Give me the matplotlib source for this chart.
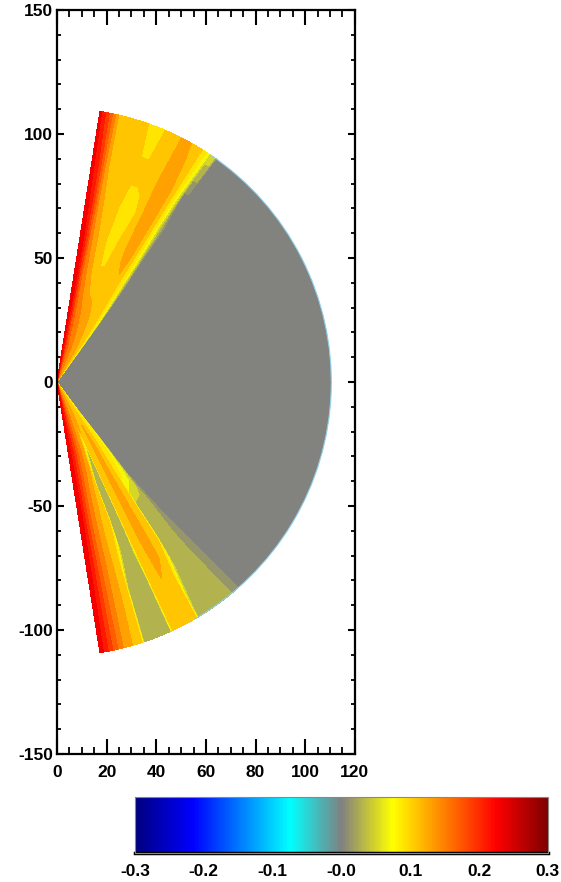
import numpy as np
import matplotlib
matplotlib.use("Agg")
import matplotlib.pyplot as plt
from matplotlib.colors import LinearSegmentedColormap, Normalize
from matplotlib.patches import Wedge, Arc
from matplotlib.cm import ScalarMappable
from matplotlib.ticker import MultipleLocator, FixedLocator, FuncFormatter

plt.rcParams["font.family"] = ["Liberation Sans", "DejaVu Sans"]
plt.rcParams["font.weight"] = "bold"

# radius of each table column, angle (deg from +x) of each table row
RADII = [0.5, 15, 30, 45, 60, 75, 90, 110.5]
ANGLES = [-81.0, -79.5, -78.0, -76.0, -74.0, -72.0, -71.5, -71.0, -69.5, -69.0,
          -66.0, -65.5, -65.0, -63.0, -62.0, -60.0, -59.5, -59.0, -57.5, -57.0,
          -56.0, -54.0, -53.0, -52.5, -52.0, -51.0, -50.0, -49.0, -48.5, 0.0,
          54.0, 54.5, 55.0, 56.0, 56.5, 57.5, 58.5, 60.0, 62.0, 64.0,
          66.0, 67.5, 69.5, 71.5, 73.5, 75.5, 77.0, 78.0, 79.0, 80.0,
          81.0]

# field value, one row per angle
VALUES = [
    [0.23, 0.235, 0.24, 0.24, 0.24, 0.24, 0.24, 0.235],
    [0.22, 0.225, 0.225, 0.225, 0.22, 0.215, 0.21, 0.205],
    [0.21, 0.21, 0.21, 0.20, 0.19, 0.185, 0.18, 0.175],
    [0.19, 0.19, 0.19, 0.17, 0.155, 0.15, 0.145, 0.14],
    [0.17, 0.17, 0.165, 0.145, 0.135, 0.13, 0.125, 0.12],
    [0.155, 0.155, 0.15, 0.13, 0.115, 0.11, 0.11, 0.11],
    [0.15, 0.15, 0.145, 0.125, 0.11, 0.11, 0.105, 0.03],
    [0.145, 0.145, 0.14, 0.12, 0.11, 0.105, 0.03, 0.03],
    [0.14, 0.14, 0.135, 0.105, 0.105, 0.03, 0.03, 0.03],
    [0.14, 0.14, 0.13, 0.03, 0.03, 0.03, 0.03, 0.03],
    [0.13, 0.13, 0.03, 0.03, 0.03, 0.03, 0.03, 0.03],
    [0.13, 0.13, 0.05, 0.03, 0.03, 0.05, 0.03, 0.03],
    [0.125, 0.125, 0.115, 0.11, 0.11, 0.11, 0.11, 0.105],
    [0.12, 0.12, 0.11, 0.11, 0.11, 0.11, 0.11, 0.11],
    [0.12, 0.12, 0.115, 0.12, 0.125, 0.13, 0.12, 0.11],
    [0.115, 0.115, 0.13, 0.13, 0.13, 0.13, 0.11, 0.11],
    [0.11, 0.11, 0.125, 0.115, 0.11, 0.11, 0.11, 0.105],
    [0.11, 0.11, 0.12, 0.11, 0.11, 0.11, 0.105, 0.03],
    [0.105, 0.105, 0.11, 0.105, 0.105, 0.105, 0.03, 0.03],
    [0.10, 0.10, 0.105, 0.09, 0.03, 0.03, 0.03, 0.03],
    [0.095, 0.095, 0.09, 0.085, 0.03, 0.03, 0.03, 0.03],
    [0.085, 0.085, 0.085, 0.07, 0.03, 0.03, 0.03, 0.03],
    [0.0, 0.0, 0.065, 0.05, 0.03, 0.03, 0.03, 0.03],
    [0.0, 0.0, 0.0, 0.0, 0.03, 0.03, 0.03, 0.03],
    [0.0, 0.0, 0.0, 0.0, 0.012, 0.012, 0.03, 0.03],
    [0.0, 0.0, 0.0, 0.0, 0.0, 0.012, 0.012, 0.03],
    [0.0, 0.0, 0.0, 0.0, 0.0, 0.0, 0.012, 0.012],
    [0.0, 0.0, 0.0, 0.0, 0.0, 0.0, 0.0, 0.012],
    [0.0, 0.0, 0.0, 0.0, 0.0, 0.0, 0.0, 0.0],
    [0.0, 0.0, 0.0, 0.0, 0.0, 0.0, 0.0, 0.0],
    [0.0, 0.0, 0.0, 0.0, 0.0, 0.0, 0.0, 0.0],
    [0.05, 0.05, 0.03, 0.0, 0.0, 0.0, 0.0, 0.0],
    [0.07, 0.07, 0.065, 0.03, 0.0, 0.0, 0.0, 0.05],
    [0.09, 0.09, 0.085, 0.065, 0.05, 0.03, 0.0, 0.05],
    [0.105, 0.105, 0.09, 0.085, 0.07, 0.05, 0.05, 0.07],
    [0.11, 0.11, 0.105, 0.09, 0.09, 0.085, 0.085, 0.09],
    [0.115, 0.115, 0.11, 0.11, 0.11, 0.11, 0.11, 0.11],
    [0.12, 0.12, 0.11, 0.115, 0.13, 0.13, 0.13, 0.115],
    [0.125, 0.125, 0.115, 0.11, 0.125, 0.13, 0.13, 0.13],
    [0.13, 0.13, 0.12, 0.11, 0.11, 0.11, 0.115, 0.11],
    [0.135, 0.135, 0.125, 0.105, 0.105, 0.09, 0.11, 0.11],
    [0.14, 0.14, 0.13, 0.105, 0.09, 0.09, 0.105, 0.09],
    [0.145, 0.145, 0.135, 0.105, 0.09, 0.09, 0.105, 0.09],
    [0.15, 0.15, 0.14, 0.115, 0.105, 0.11, 0.11, 0.11],
    [0.16, 0.16, 0.15, 0.125, 0.115, 0.11, 0.11, 0.11],
    [0.17, 0.17, 0.16, 0.145, 0.13, 0.12, 0.11, 0.11],
    [0.18, 0.185, 0.175, 0.16, 0.15, 0.14, 0.125, 0.12],
    [0.19, 0.20, 0.195, 0.185, 0.18, 0.17, 0.16, 0.15],
    [0.20, 0.21, 0.21, 0.21, 0.205, 0.20, 0.195, 0.18],
    [0.21, 0.22, 0.23, 0.23, 0.23, 0.22, 0.215, 0.205],
    [0.22, 0.23, 0.24, 0.24, 0.24, 0.24, 0.23, 0.23],
]

X_TICKS = [0, 20, 40, 60, 80, 100, 120]
Y_TICKS = [-150, -100, -50, 0, 50, 100, 150]
CBAR_TICKS = [-0.3, -0.2, -0.1, 0.0, 0.1, 0.2, 0.3]
CBAR_LABELS = ["-0.3", "-0.2", "-0.1", "-0.0", "0.1", "0.2", "0.3"]

# blue-cyan-gray-yellow-red table, gray sits at zero
cmap = LinearSegmentedColormap.from_list("idl_gray0", [
    (0.0, (0.0, 0.0, 0.5)),
    (0.14, (0.0, 0.0, 1.0)),
    (0.375, (0.0, 1.0, 1.0)),
    (0.5, (0.5, 0.5, 0.5)),
    (0.625, (1.0, 1.0, 0.0)),
    (0.875, (1.0, 0.0, 0.0)),
    (1.0, (0.5, 0.0, 0.0)),
])
norm = Normalize(vmin=-0.3, vmax=0.3)
levels = [-0.31, -0.005, 0.005] + list(np.round(np.arange(0.02, 0.301, 0.02), 3))

r_grid, th_grid = np.meshgrid(np.array(RADII), np.radians(ANGLES))
X = r_grid * np.cos(th_grid)
Y = r_grid * np.sin(th_grid)
Z = np.array(VALUES)
r_max = RADII[-1]
gray_lo = ANGLES[ANGLES.index(0.0) - 1]
gray_hi = ANGLES[ANGLES.index(0.0) + 1]

fig = plt.figure(figsize=(5.61, 8.82), dpi=100)
ax = fig.add_axes([0.1016, 0.1451, 0.531, 0.8435])

# gray part of the fan (fills the chord gap between the two coloured wedges)
ax.add_patch(Wedge((0, 0), r_max, gray_lo, gray_hi,
                   facecolor=cmap(norm(0.0)), edgecolor="none", zorder=1))
ax.contourf(X, Y, Z, levels=levels, cmap=cmap, norm=norm, zorder=2)
ax.add_patch(Arc((0, 0), 2 * r_max, 2 * r_max, theta1=-60, theta2=56,
                 color="#8fd0ea", lw=0.8, zorder=3))

ax.set_xlim(X_TICKS[0], X_TICKS[-1])
ax.set_ylim(Y_TICKS[0], Y_TICKS[-1])
ax.xaxis.set_major_locator(FixedLocator(X_TICKS))
ax.yaxis.set_major_locator(FixedLocator(Y_TICKS))
ax.xaxis.set_minor_locator(MultipleLocator(5))
ax.yaxis.set_minor_locator(MultipleLocator(10))
fmt = FuncFormatter(lambda v, p: f"{int(round(v))}")
ax.xaxis.set_major_formatter(fmt)
ax.yaxis.set_major_formatter(fmt)

for s in ax.spines.values():
    s.set_linewidth(1.6)
ax.tick_params(axis="x", which="major", direction="in", length=10.5, width=1.5,
               top=True, labelsize=12.5, pad=8)
ax.tick_params(axis="x", which="minor", direction="in", length=5.2, width=1.3, top=True)
ax.tick_params(axis="y", which="major", direction="in", length=5, width=1.5,
               right=True, labelsize=12.5, pad=3)
ax.tick_params(axis="y", which="minor", direction="in", length=3, width=1.3, right=True)

# colour bar
cax = fig.add_axes([0.2406, 0.0329, 0.736, 0.0635])
cb = fig.colorbar(ScalarMappable(norm=norm, cmap=cmap), cax=cax, orientation="horizontal")
cb.outline.set_linewidth(0.8)
cb.outline.set_edgecolor("#888888")
cax.axhline(0, color="black", lw=2.5, clip_on=False)
cb.set_ticks(CBAR_TICKS)
cb.set_ticklabels(CBAR_LABELS)
cax.tick_params(axis="x", length=0, labelsize=12.5, pad=8)

fig.savefig("out.png", dpi=100)
